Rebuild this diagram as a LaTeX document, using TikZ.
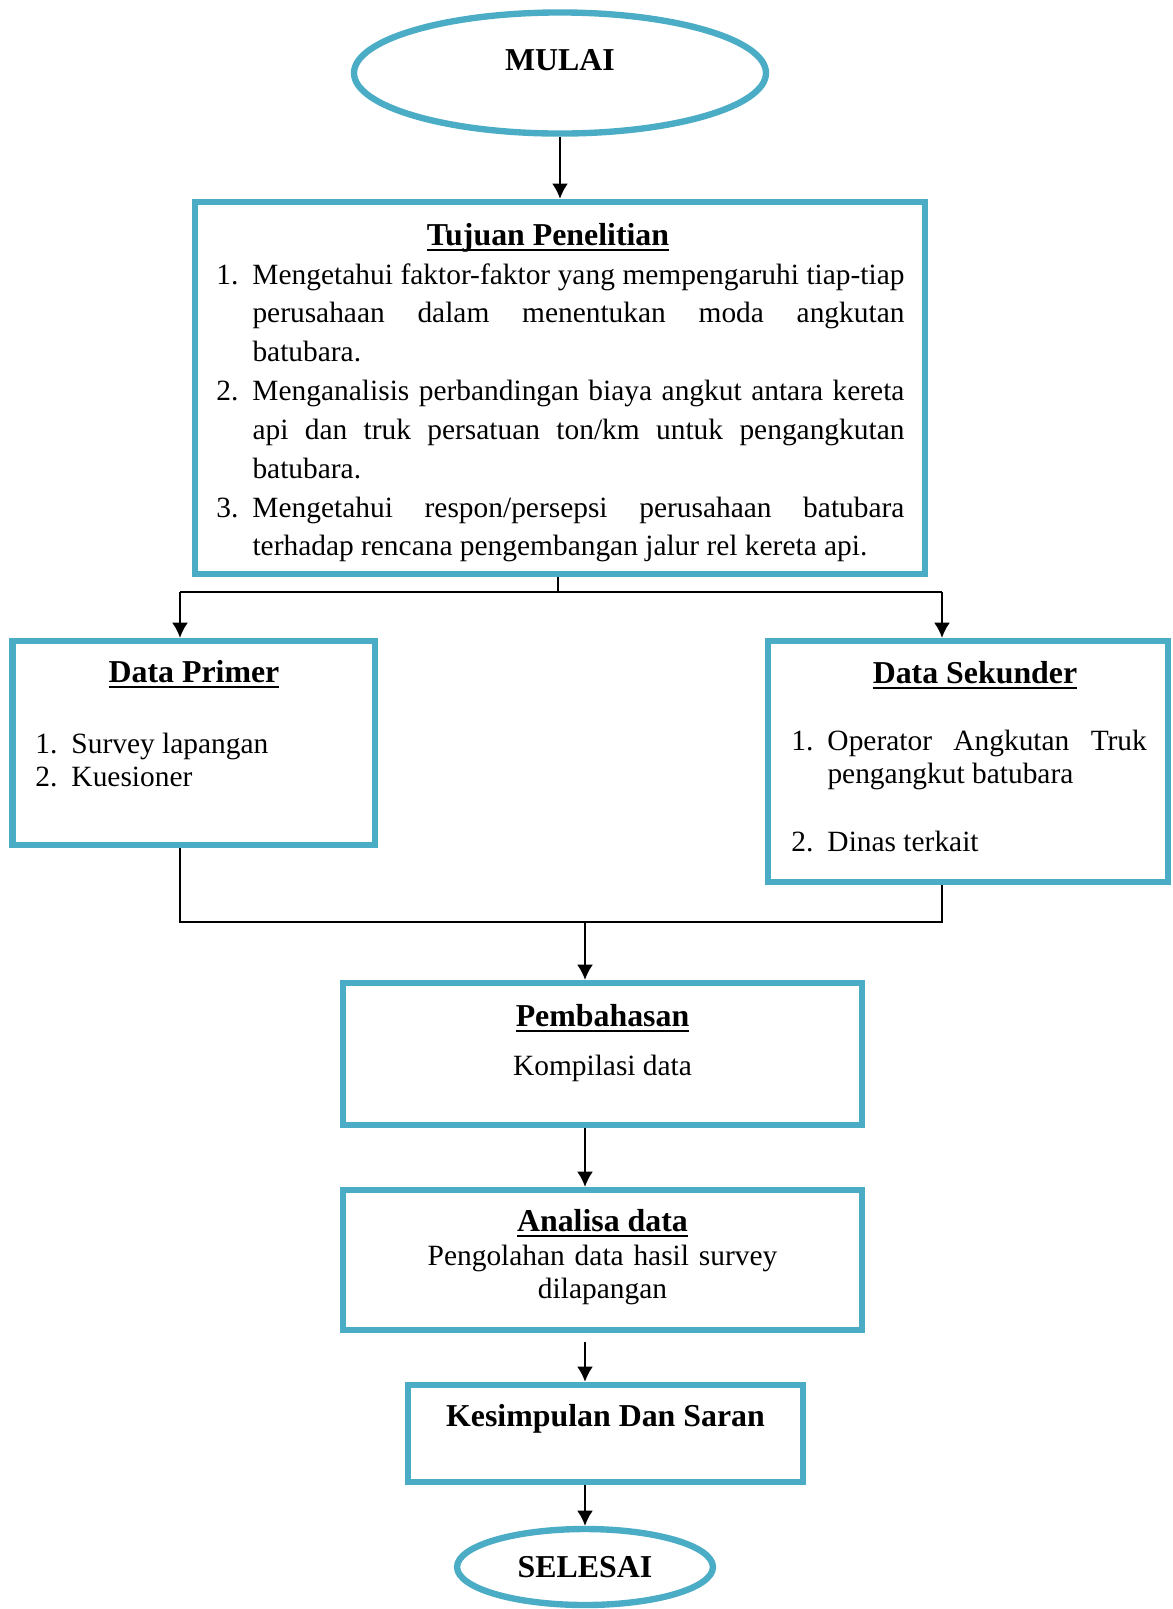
\documentclass[tikz,border=0pt]{standalone}
\usepackage{fontspec}
\setmainfont{Liberation Serif}
\usetikzlibrary{shapes.geometric, arrows.meta}
\definecolor{biru}{HTML}{4BACC6}
\newcommand{\judul}[1]{\setbox0\hbox{#1}\rlap{\rule[-2.6pt]{\wd0}{1.1pt}}\box0}
\newcommand{\butir}[2]{\noindent\hangindent=14.7pt\hangafter=1\makebox[14.7pt][l]{#1}#2\par}
\hyphenpenalty=10000
\exhyphenpenalty=10000
\tolerance=10000

\begin{document}
\begin{tikzpicture}[x=0.408pt, y=-0.408pt,
    kotak/.style={draw=biru, line width=2.6pt, inner sep=0pt},
    terminal/.style={ellipse, draw=biru, line width=2.6pt, inner sep=0pt,
      font=\fontsize{13pt}{15pt}\selectfont\bfseries},
    jdl/.style={anchor=base, inner sep=0pt,
      font=\fontsize{13pt}{15pt}\selectfont\bfseries},
    isi/.style={anchor=base west, inner sep=0pt,
      font=\fontsize{12pt}{13.8pt}\selectfont},
    daftar/.style={isi, align=justify},
    panah/.style={line width=0.8pt, -{Latex[length=6.2pt,width=6.5pt]}},
    garis/.style={line width=0.6pt}]
    \useasboundingbox (0,0) rectangle (1173,1609);

    \node[terminal, minimum width=168.1pt, minimum height=49.4pt,
      text height=9pt, text depth=11.4pt] (mulai) at (560,73) {MULAI};

    \node[kotak, minimum width=297.8pt, minimum height=151.8pt] (tujuan) at (560,388) {};
    \node[jdl] (tujuanjdl) at (548,245) {\judul{Tujuan Penelitian}};
    \node[daftar, text width=280.7pt, font=\fontsize{12pt}{15.85pt}\selectfont]
      (tujuanisi) at (216,284) {%
      \butir{1.}{Mengetahui faktor-faktor yang mempengaruhi tiap-tiap\linebreak
        perusahaan dalam menentukan moda angkutan\linebreak batubara.}%
      \butir{2.}{Menganalisis perbandingan biaya angkut antara kereta\linebreak
        api dan truk persatuan ton/km untuk pengangkutan\linebreak batubara.}%
      \butir{3.}{Mengetahui respon/persepsi perusahaan batubara\linebreak
        terhadap rencana pengembangan jalur rel kereta api.}};

    \node[kotak, minimum width=147.9pt, minimum height=83.2pt] (primer) at (193.75,743) {};
    \node[jdl] (primerjdl) at (194,682) {\judul{Data Primer}};
    \node[daftar, text width=130pt] (primerisi) at (35,753) {%
      \butir{1.}{Survey lapangan}\butir{2.}{Kuesioner}};

    \node[kotak, minimum width=163.2pt, minimum height=98.3pt] (sekunder) at (968,761.5) {};
    \node[jdl] (sekunderjdl) at (975,683) {\judul{Data Sekunder}};
    \node[daftar, text width=145pt] (sekunderisi) at (791,750) {%
      \butir{1.}{Operator Angkutan Truk\linebreak pengangkut batubara}%
      \vspace{13.8pt}\butir{2.}{Dinas terkait}};

    \node[kotak, minimum width=211.8pt, minimum height=57.9pt] (pembahasan) at (602.5,1054) {};
    \node[jdl] (pembahasanjdl) at (602.5,1026) {\judul{Pembahasan}};
    \node[isi, anchor=base] (pembahasanisi) at (602.5,1075) {Kompilasi data};

    \node[kotak, minimum width=211.8pt, minimum height=57.1pt] (analisa) at (602.5,1260) {};
    \node[jdl] (analisajdl) at (602.5,1231) {\judul{Analisa data}};
    \node[isi, anchor=base, text width=180pt, align=center] (analisaisi) at (602.5,1265)
      {Pengolahan data hasil survey\\ dilapangan};

    \node[kotak, minimum width=161.2pt, minimum height=39.6pt] (kesimpulan) at (605.5,1433.5) {};
    \node[jdl] (kesimpulanjdl) at (605.5,1426) {Kesimpulan Dan Saran};

    \node[terminal, minimum width=104.4pt, minimum height=31pt,
      text height=8.8pt, text depth=0pt] (selesai) at (585,1567) {SELESAI};

    % titik cabang
    \coordinate (bagi) at (558,592);
    \coordinate (bagikiri) at (180,592);
    \coordinate (bagikanan) at (942,592);
    \coordinate (gabung) at (585,922);
    \coordinate (gabungkiri) at (180,922);
    \coordinate (gabungkanan) at (942,922);

    \draw[panah] (mulai) -- (tujuan);
    \draw[garis] (tujuan.south -| bagi) -- (bagi);
    \draw[garis] (bagikiri) -- (bagikanan);
    \draw[panah] (bagikiri) -- (primer.north -| bagikiri);
    \draw[panah] (bagikanan) -- (sekunder.north -| bagikanan);
    \draw[garis] (primer.south -| gabungkiri) -- (gabungkiri) -- (gabungkanan)
      -- (sekunder.south -| gabungkanan);
    \draw[panah] (gabung) -- (pembahasan.north -| gabung);
    \draw[panah] (pembahasan.south -| gabung) -- (analisa.north -| gabung);
    \draw[panah, shorten <=3.7pt] (analisa.south -| gabung) -- (kesimpulan.north -| gabung);
    \draw[panah] (kesimpulan.south -| gabung) -- (selesai);
\end{tikzpicture}
\end{document}
